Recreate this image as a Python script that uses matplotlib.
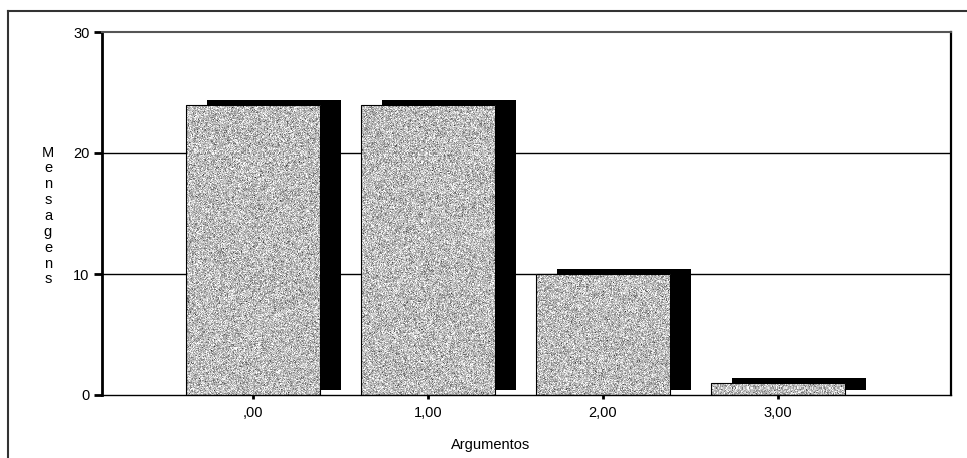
import numpy as np
import matplotlib
matplotlib.use("Agg")
import matplotlib.pyplot as plt
from matplotlib.transforms import offset_copy
from matplotlib.lines import Line2D

# Data
categories = [",00", "1,00", "2,00", "3,00"]
mensagens = [24, 24, 10, 1]
y_ticks = [0, 10, 20, 30]

plt.rcParams["font.family"] = ["Liberation Sans", "DejaVu Sans"]

fig = plt.figure(figsize=(9.67, 4.58), dpi=100)
ax = fig.add_axes([102 / 967, 63 / 458, 849 / 967, 363 / 458])

x = np.arange(len(categories))
width = 0.77
xlim = (-0.863, 3.989)
ylim = (0, 30)

# Gridlines behind everything
for yv in y_ticks[1:3]:
    ax.axhline(yv, color="black", lw=1.0, zorder=0)

# Drop shadows: same bars shifted right/up in pixel space
shadow_tr = offset_copy(ax.transData, fig=fig, x=21, y=5, units="dots")
ax.bar(x, mensagens, width=width, color="black", zorder=1, transform=shadow_tr)

# Front bars, filled with a speckled gray texture
bars = ax.bar(x, mensagens, width=width, facecolor="none", edgecolor="black",
              lw=0.8, zorder=3)
rng = np.random.default_rng(7)
tex = np.clip(rng.normal(0.74, 0.15, size=(363, 849)), 0, 1)
for b in bars:
    im = ax.imshow(tex, cmap="gray", vmin=0, vmax=1, extent=(*xlim, *ylim),
                   aspect="auto", interpolation="nearest", zorder=2)
    im.set_clip_path(b)
ax.set_xlim(*xlim)
ax.set_ylim(*ylim)

ax.set_xticks(x)
ax.set_xticklabels(categories, fontsize=10.5)
ax.set_yticks(y_ticks)
ax.set_yticklabels([str(v) for v in y_ticks], fontsize=10.5)
ax.tick_params(axis="y", direction="out", length=6, width=2, pad=3)
ax.tick_params(axis="x", direction="out", length=3, width=2, pad=5)

ax.spines["left"].set_linewidth(2.0)
ax.spines["right"].set_linewidth(1.6)
ax.spines["bottom"].set_linewidth(1.0)
ax.spines["top"].set_linewidth(1.5)
ax.spines["top"].set_color("#555555")

# Axis titles
fig.text(48 / 967, 1 - 216 / 458, "\n".join("Mensagens"), ha="center", va="center",
         fontsize=10.5, linespacing=1.17)
fig.text(491 / 967, 1 - 445 / 458, "Argumentos", ha="center", va="center", fontsize=10.5)

# Outer frame (top and left edges)
fig.add_artist(Line2D([8 / 967, 1.0], [1 - 11 / 458, 1 - 11 / 458],
                      transform=fig.transFigure, color="#333333", lw=1.5))
fig.add_artist(Line2D([8 / 967, 8 / 967], [0.0, 1 - 11 / 458],
                      transform=fig.transFigure, color="#333333", lw=1.5))

fig.savefig("out.png", dpi=100)
